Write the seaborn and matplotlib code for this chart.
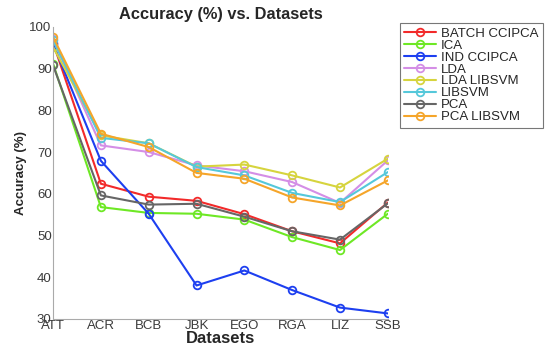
import numpy as np
import pandas as pd
import matplotlib
matplotlib.use("Agg")
import matplotlib.pyplot as plt
import seaborn as sns

datasets = ["ATT", "ACR", "BCB", "JBK", "EGO", "RGA", "LIZ", "SSB"]

batch_ccipca = [96.2, 62.4, 59.3, 58.3, 55.1, 51.0, 48.1, 57.9]
ica          = [91.2, 56.8, 55.4, 55.2, 53.8, 49.6, 46.5, 55.2]
ind_ccipca   = [96.0, 67.9, 55.2, 38.0, 41.6, 36.9, 32.7, 31.3]
lda          = [97.0, 71.6, 70.0, 66.8, 65.4, 62.8, 57.8, 68.0]
lda_libsvm   = [95.2, 74.0, 72.1, 66.5, 67.0, 64.4, 61.5, 68.4]
libsvm       = [96.8, 73.4, 72.1, 66.4, 64.4, 60.2, 58.0, 65.2]
pca          = [90.8, 59.6, 57.4, 57.6, 54.5, 51.0, 49.0, 57.7]
pca_libsvm   = [97.6, 74.4, 71.2, 65.0, 63.6, 59.1, 57.2, 63.2]

methods = ["BATCH CCIPCA", "ICA", "IND CCIPCA", "LDA", "LDA LIBSVM", "LIBSVM", "PCA", "PCA LIBSVM"]
values = [batch_ccipca, ica, ind_ccipca, lda, lda_libsvm, libsvm, pca, pca_libsvm]
colors = ["#f22a2a", "#6ee825", "#1d3ff0", "#d48ee6", "#d6d43e", "#55c8da", "#666666", "#f5a52a"]

sns.set_style("white")
plt.rcParams["font.family"] = ["Liberation Sans", "DejaVu Sans"]

fig = plt.figure(figsize=(5.47, 3.5), dpi=100)
ax = fig.add_axes([0.097, 0.089, 0.612, 0.834])

for name, vals, c in zip(methods, values, colors):
    df = pd.DataFrame({"Dataset": datasets, "Accuracy": vals})
    sns.lineplot(data=df, x="Dataset", y="Accuracy", ax=ax, color=c, label=name,
                 marker="o", markersize=5.5, markerfacecolor="none", markeredgecolor=c,
                 markeredgewidth=1.3, linewidth=1.5, sort=False)

ax.set_xlim(0, 7)
ax.set_ylim(30, 100)
ax.set_yticks(range(30, 101, 10))
ax.set_title("Accuracy (%) vs. Datasets", fontsize=11.8, fontweight="bold", pad=6)
ax.set_xlabel("Datasets", fontsize=12, fontweight="bold", labelpad=-1)
ax.set_ylabel("Accuracy (%)", fontsize=9.5, fontweight="bold", labelpad=2)
ax.tick_params(direction="in", length=3, labelsize=9.5, colors="#3a3a3a", pad=1)
for s in ["top", "right"]:
    ax.spines[s].set_visible(False)
for s in ["left", "bottom"]:
    ax.spines[s].set_color("#aaaaaa")

leg = ax.legend(loc="upper left", bbox_to_anchor=(0.731, 0.935), bbox_transform=fig.transFigure,
                fontsize=9.5, frameon=True, fancybox=False, edgecolor="#555555",
                handlelength=2.4, handletextpad=0.35, labelspacing=-0.02, borderpad=0.35,
                borderaxespad=0)
leg.get_frame().set_linewidth(0.8)

fig.savefig("out.png", dpi=100)
